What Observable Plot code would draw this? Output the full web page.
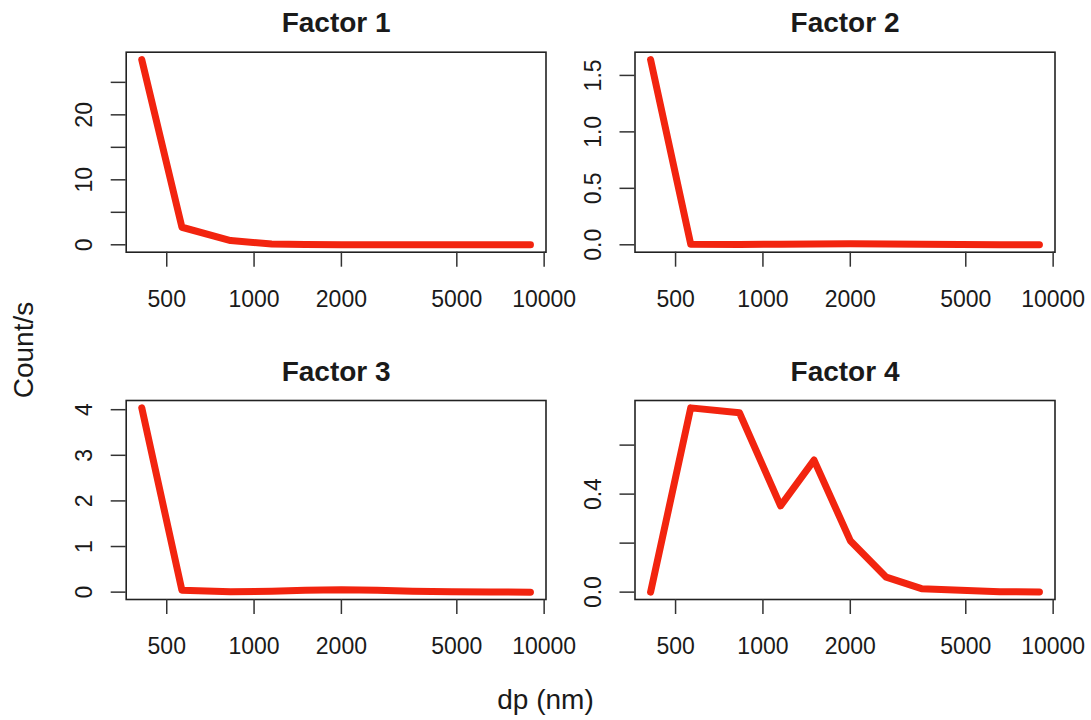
<!DOCTYPE html>
<html>
<head>
<meta charset="utf-8">
<script src="https://cdn.jsdelivr.net/npm/d3@7"></script>
<script src="https://cdn.jsdelivr.net/npm/@observablehq/plot@0.6"></script>
<style>
  html, body { margin: 0; padding: 0; background: #fff; }
  #chart { position: relative; width: 1091px; height: 720px; background: #fff; overflow: hidden;
           font-family: "Liberation Sans", Arial, Helvetica, sans-serif; color: #1a1a1a; }
  #chart svg { position: absolute; }
</style>
</head>
<body>
<div id="chart"></div>
<script>
// ---- data ----
const dp = [410, 564, 830, 1150, 1500, 2000, 2660, 3520, 4800, 6550, 8970];
const factor1 = [28.5, 2.7, 0.66, 0.12, 0.04, 0.02, 0.01, 0.005, 0.002, 0.001, 0.0];
const factor2 = [1.64, 0.004, 0.003, 0.005, 0.008, 0.01, 0.006, 0.004, 0.002, 0.001, 0.0];
const factor3 = [4.04, 0.04, 0.01, 0.02, 0.04, 0.05, 0.04, 0.02, 0.01, 0.005, 0.0];
const factor4 = [0.0, 0.752, 0.732, 0.352, 0.539, 0.210, 0.061, 0.014, 0.008, 0.002, 0.001];
const titles = ["Factor 1", "Factor 2", "Factor 3", "Factor 4"];
const xTicks = [500, 1000, 2000, 5000, 10000];
const yTicks1 = [0, 5, 10, 15, 20, 25];
const yLabels1 = [0, 10, 20];
const yTicks2 = [0, 0.5, 1.0, 1.5];
const yLabels2 = [0, 0.5, 1.0, 1.5];
const yTicks3 = [0, 1, 2, 3, 4];
const yLabels3 = [0, 1, 2, 3, 4];
const yTicks4 = [0, 0.2, 0.4, 0.6];
const yLabels4 = [0, 0.4];
const xLabel = "dp (nm)";
const yLabel = "Count/s";

const series = [factor1, factor2, factor3, factor4];
const yTicksAll = [yTicks1, yTicks2, yTicks3, yTicks4];
const yLabelsAll = [yLabels1, yLabels2, yLabels3, yLabels4];
const yFormats = [d3.format("d"), d3.format(".1f"), d3.format("d"), d3.format(".1f")];

// panel placement: svg box and frame (plot region) in page pixels
const panels = [
  {svgLeft: 0,   svgTop: 0,   svgW: 590, svgH: 340, fL: 125.7, fR: 545.5, fT: 51.7, fB: 251.7},
  {svgLeft: 545, svgTop: 0,   svgW: 546, svgH: 340, fL: 634.5, fR: 1054.5, fT: 51.7, fB: 251.7},
  {svgLeft: 0,   svgTop: 340, svgW: 590, svgH: 380, fL: 125.7, fR: 545.5, fT: 400, fB: 599},
  {svgLeft: 545, svgTop: 340, svgW: 546, svgH: 380, fL: 634.5, fR: 1054.5, fT: 400, fB: 599}
];

const red = "#f2240f";
const ink = "#1a1a1a";
const container = document.getElementById("chart");

panels.forEach((p, i) => {
  const vals = series[i];
  const data = dp.map((x, j) => ({dp: x, v: vals[j]}));
  const lo = d3.min(vals), hi = d3.max(vals), r = hi - lo;
  const lx = Math.log10(d3.min(dp)), hx = Math.log10(d3.max(dp)), rx = hx - lx;
  const xDomain = [Math.pow(10, lx - 0.04 * rx), Math.pow(10, hx + 0.04 * rx)];
  const yDomain = [lo - 0.04 * r, hi + 0.04 * r];
  const fmt = yFormats[i];
  const chart = Plot.plot({
    width: p.svgW,
    height: p.svgH,
    marginLeft: p.fL - p.svgLeft,
    marginRight: p.svgLeft + p.svgW - p.fR,
    marginTop: p.fT - p.svgTop,
    marginBottom: p.svgTop + p.svgH - p.fB,
    style: {background: "transparent", overflow: "visible", color: ink,
            fontFamily: '"Liberation Sans", Arial, Helvetica, sans-serif', fontSize: "23px"},
    x: {type: "log", domain: xDomain},
    y: {domain: yDomain},
    marks: [
      Plot.frame({stroke: "#222", strokeWidth: 1.6}),
      Plot.axisX({ticks: xTicks, tickSize: 15, tickPadding: 23, tickFormat: d => String(d),
                  label: null, fontSize: 23, stroke: "#333", strokeWidth: 1.5}),
      Plot.axisY({ticks: yTicksAll[i], tickSize: 15, tickFormat: () => "", label: null,
                  stroke: "#333", strokeWidth: 1.5}),
      Plot.text(yLabelsAll[i], {y: d => d, text: d => fmt(d), frameAnchor: "left", dx: -34,
                  rotate: -90, textAnchor: "middle", lineAnchor: "bottom", fontSize: 23, fill: ink}),
      Plot.text([titles[i]], {text: d => d, frameAnchor: "top", dy: -20, lineAnchor: "bottom",
                  fontSize: 28, fontWeight: "bold", fill: ink}),
      Plot.line(data, {x: "dp", y: "v", stroke: red, strokeWidth: 7,
                  strokeLinejoin: "round", strokeLinecap: "round"})
    ]
  });
  chart.style.left = p.svgLeft + "px";
  chart.style.top = p.svgTop + "px";
  container.appendChild(chart);
});

// outer axis labels
const ns = "http://www.w3.org/2000/svg";
const over = document.createElementNS(ns, "svg");
over.setAttribute("width", 1091);
over.setAttribute("height", 720);
over.style.left = "0px"; over.style.top = "0px"; over.style.pointerEvents = "none";
const t1 = document.createElementNS(ns, "text");
t1.setAttribute("x", 545.5); t1.setAttribute("y", 709);
t1.setAttribute("text-anchor", "middle");
t1.setAttribute("font-size", "28"); t1.setAttribute("fill", ink);
t1.setAttribute("font-family", '"Liberation Sans", Arial, Helvetica, sans-serif');
t1.textContent = xLabel;
over.appendChild(t1);
const t2 = document.createElementNS(ns, "text");
t2.setAttribute("transform", "translate(33,350) rotate(-90)");
t2.setAttribute("text-anchor", "middle");
t2.setAttribute("font-size", "28"); t2.setAttribute("fill", ink);
t2.setAttribute("font-family", '"Liberation Sans", Arial, Helvetica, sans-serif');
t2.textContent = yLabel;
over.appendChild(t2);
container.appendChild(over);
</script>
</body>
</html>
